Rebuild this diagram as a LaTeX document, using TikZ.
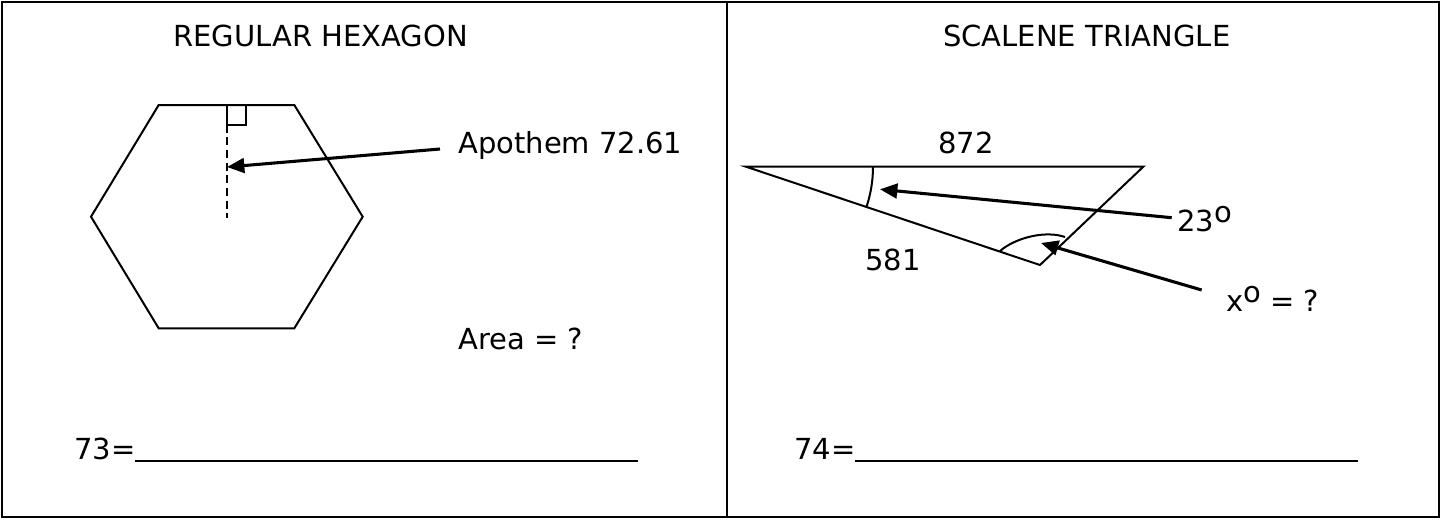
\documentclass[tikz,border=0pt]{standalone}
\usepackage{fontspec}
\setmainfont{DejaVu Sans}
\usetikzlibrary{arrows.meta}

\begin{document}
\begin{tikzpicture}[
    x=0.75pt, y=-0.75pt,
    every node/.style={font=\fontsize{21.75}{26}\selectfont, inner sep=0pt, anchor=base west},
    frame/.style={line width=1.5pt},
    outline/.style={line width=1.5pt, line join=miter},
    flow/.style={-{Triangle[length=13pt,width=11pt]}, line width=2.3pt},
]
\useasboundingbox (0,0) rectangle (1442,519);
\draw[frame] (2,2) rectangle (1439,517);
\draw[frame] (727,2) -- (727,517);

% left panel: hexagon
\node (hextitle) at (173,46) {REGULAR HEXAGON};
\draw[outline] (158.7,105) -- (294.3,105) -- (362.7,216.7) -- (294.3,328.3)
    -- (158.7,328.3) -- (91,216.7) -- cycle;
\draw[outline] (226.5,105) rectangle (245.5,124.5);
\draw[line width=1.5pt, dash pattern=on 6pt off 3.5pt] (226.5,124.5) -- (226.5,218);
\node (apothem) at (458,153) {Apothem 72.61};
\coordinate (apotail) at (440,149);
\coordinate (apotip) at (227,167);
\draw[flow] (apotail) -- (apotip);
\node (area) at (458,349) {Area = ?};
\node (ans73) at (74,459) {73=\rule[-2pt]{377.25pt}{1.3pt}};

% right panel: triangle
\node (trititle) at (943,46) {SCALENE TRIANGLE};
\draw[outline] (746,166.7) -- (1143.3,166.7) -- (1040,265) -- cycle;
\draw[line width=1.5pt] (873,166.7) arc[start angle=0, end angle=18.5, radius=127];
\draw[line width=1.5pt] (1000,251) .. controls (1015,238) and (1045,230) .. (1065,237);
\node (top) at (938,153) {872};
\node (side) at (865,270) {581};
\node (given) at (1177,231.7) {23\raisebox{6.75pt}{o}};
\coordinate (giventail) at (1171.7,217.7);
\coordinate (giventip) at (880,189.3);
\draw[flow] (giventail) -- (giventip);
\node (unknown) at (1226,311.7) {x\raisebox{6.75pt}{o} = ?};
\coordinate (unknowntail) at (1201.7,290);
\coordinate (unknowntip) at (1041,243);
\draw[flow] (unknowntail) -- (unknowntip);
\node (ans74) at (794,459) {74=\rule[-2pt]{377.25pt}{1.3pt}};
\end{tikzpicture}
\end{document}
